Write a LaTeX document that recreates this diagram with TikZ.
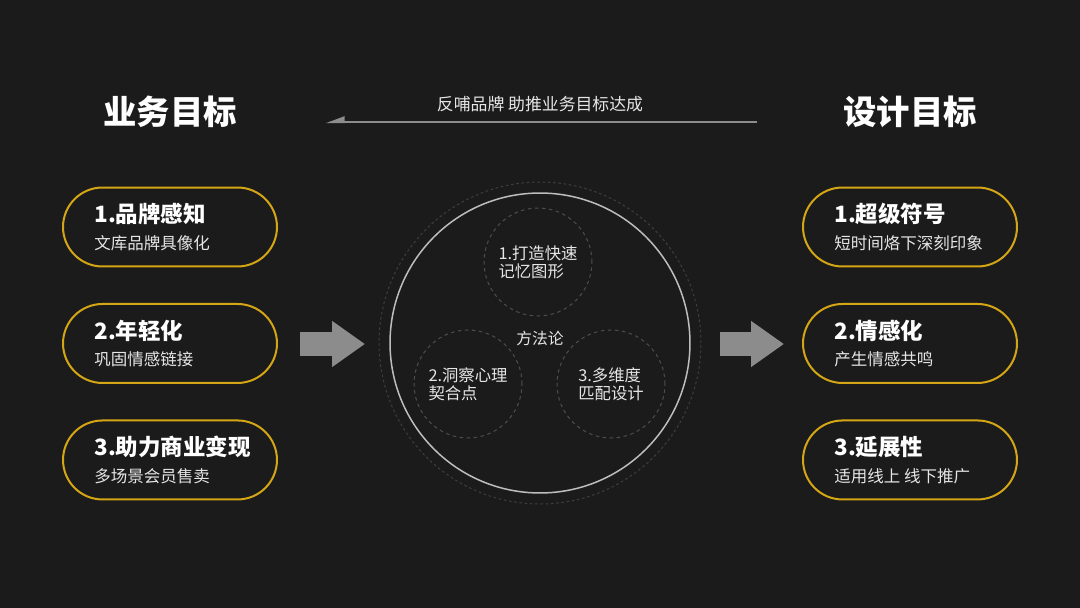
\documentclass[tikz,border=0pt]{standalone}
\usepackage{fontspec}
\setmainfont{Noto Sans CJK SC}
\usepackage{xcolor}
\usepackage{tikz}
\usetikzlibrary{arrows.meta, positioning}
\definecolor{bgdark}{HTML}{1B1B1B}
\definecolor{pillgold}{HTML}{D4A514}
\definecolor{arrowgray}{HTML}{8C8C8C}
\definecolor{ringgray}{HTML}{BDBDBD}
\definecolor{dashgray}{HTML}{4E4E4E}
\definecolor{halogray}{HTML}{3E3E3E}
\definecolor{softwhite}{HTML}{E6E6E6}

\newcommand{\pillcopy}[2]{{\color{white}\fontsize{12.8pt}{15pt}\selectfont\bfseries #1}\\#2}

\begin{document}
\begin{tikzpicture}[
        x=0.02cm, y=-0.02cm,
        node distance = 0.71cm and 3.0cm,
        headline/.style = {inner sep=0pt, text=white, font=\fontsize{19pt}{22pt}\selectfont\bfseries},
        pill/.style = {draw=pillgold, line width=0.04cm, rounded corners=0.79cm, minimum width=4.28cm, minimum height=1.58cm},
        pilltext/.style = {inner sep=0pt, align=left, text=softwhite, font=\fontsize{9.4pt}{15pt}\selectfont},
        ring/.style = {circle, draw=ringgray, line width=0.03cm, minimum size=6.0cm},
        dotring/.style = {circle, draw=halogray, line width=0.02cm, dash pattern=on 1.5pt off 1.5pt, minimum size=6.44cm},
        idea/.style = {circle, draw=dashgray, line width=0.02cm, dash pattern=on 2pt off 2pt, minimum size=2.16cm, inner sep=0pt, align=left, text=softwhite, font=\fontsize{9.3pt}{10.2pt}\selectfont},
        blockarrow/.style = {draw=arrowgray, line width=0.48cm, -{Triangle[length=0.66cm, width=0.88cm]}},
        topline/.style = {draw=arrowgray, line width=0.05cm, -{Triangle[harpoon, swap, length=0.32cm, width=0.22cm]}}
    ]

        % Background
        \fill [bgdark] (0,0) rectangle (1080,608);

        % Headlines
        \node (bizhead) [headline] at (170,112) {业务目标};
        \node (deshead) [headline] at (910,112) {设计目标};

        % Feedback arrow
        \node (feedback) [inner sep=0pt, text=softwhite, font=\fontsize{9.6pt}{12pt}\selectfont] at (540,104) {反哺品牌 助推业务目标达成};
        \coordinate (feedR) at (757,122);
        \coordinate (feedL) at (325,122);
        \draw [topline] (feedR) -- (feedL);

        % Business goals
        \node (biz1) [pill] at (170,227) {};
        \node (biz2) [pill, below=of biz1] {};
        \node (biz3) [pill, below=of biz2] {};
        \node (biz1txt) [pilltext, right=0.64cm of biz1.west] {\pillcopy{1.品牌感知}{文库品牌具像化}};
        \node (biz2txt) [pilltext, right=0.64cm of biz2.west] {\pillcopy{2.年轻化}{巩固情感链接}};
        \node (biz3txt) [pilltext, right=0.64cm of biz3.west] {\pillcopy{3.助力商业变现}{多场景会员售卖}};

        % Design goals
        \node (des1) [pill] at (910,227) {};
        \node (des2) [pill, below=of des1] {};
        \node (des3) [pill, below=of des2] {};
        \node (des1txt) [pilltext, right=0.64cm of des1.west] {\pillcopy{1.超级符号}{短时间烙下深刻印象}};
        \node (des2txt) [pilltext, right=0.64cm of des2.west] {\pillcopy{2.情感化}{产生情感共鸣}};
        \node (des3txt) [pilltext, right=0.64cm of des3.west] {\pillcopy{3.延展性}{适用线上 线下推广}};

        % Methodology
        \node (halo) [dotring] at (540,343) {};
        \node (method) [ring] at (540,343) {};
        \node (core) [inner sep=0pt, text=softwhite, font=\fontsize{9pt}{11pt}\selectfont] at (540,338) {方法论};
        \node (idea1) [idea] at (538,262) {1.打造快速\\记忆图形};
        \node (idea2) [idea] at (468,384) {2.洞察心理\\契合点};
        \node (idea3) [idea] at (611,384) {3.多维度\\匹配设计};

        % Block arrows
        \coordinate (bizgo) at (300,344);
        \coordinate (bizin) at (365,344);
        \coordinate (desgo) at (720,344);
        \coordinate (desin) at (784,344);
        \draw [blockarrow] (bizgo) -- (bizin);
        \draw [blockarrow] (desgo) -- (desin);

    \end{tikzpicture}
\end{document}
